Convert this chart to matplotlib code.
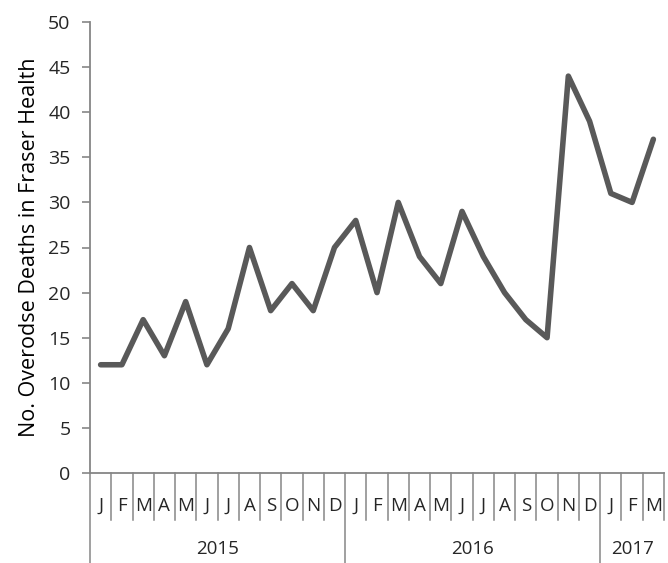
import matplotlib.pyplot as plt
import matplotlib.transforms as mtransforms

# monthly overdose deaths, Jan 2015 - Mar 2017
months = ['J', 'F', 'M', 'A', 'M', 'J', 'J', 'A', 'S', 'O', 'N', 'D',
          'J', 'F', 'M', 'A', 'M', 'J', 'J', 'A', 'S', 'O', 'N', 'D',
          'J', 'F', 'M']
deaths = [12, 12, 17, 13, 19, 12, 16, 25, 18, 21, 18, 25,
          28, 20, 30, 24, 21, 29, 24, 20, 17, 15, 44, 39,
          31, 30, 37]
years = ['2015', '2016', '2017']
months_per_year = [12, 12, 3]

plt.rcParams['font.family'] = ['Open Sans', 'DejaVu Sans']
axis_grey = '#868686'
text_col = '#262626'

fig = plt.figure(figsize=(6.68, 5.63), dpi=100)
ax = fig.add_axes([90 / 668, 90 / 563, 574 / 668, 451 / 563])

x = list(range(len(deaths)))
ax.plot(x, deaths, color='#595959', linewidth=4, solid_joinstyle='round',
        solid_capstyle='round')

ax.set_xlim(-0.5, len(deaths) - 0.5)
ax.set_ylim(0, 50)
ax.set_yticks(range(0, 51, 5))
ax.set_xticks(x)
ax.set_xticklabels(months)
ax.tick_params(axis='x', length=0, pad=17, labelsize=13.5, colors=text_col)
ax.tick_params(axis='y', length=6, width=1.2, color=axis_grey, labelsize=14,
               labelcolor=text_col, pad=8)

for side in ['top', 'right']:
    ax.spines[side].set_visible(False)
ax.spines['left'].set_color(axis_grey)
ax.spines['left'].set_linewidth(1.3)
ax.spines['bottom'].set_color(axis_grey)
ax.spines['bottom'].set_linewidth(1.3)

ax.set_ylabel('No. Overodse Deaths in Fraser Health', fontsize=15.5, color='black', labelpad=6)

# category separators below the axis
trans = mtransforms.blended_transform_factory(ax.transData, ax.transAxes)
year_starts = [0]
for n in months_per_year:
    year_starts.append(year_starts[-1] + n)
for k in range(len(deaths) + 1):
    b = k - 0.5
    if k in year_starts[:-1]:
        ax.plot([b, b], [0, -0.2], transform=trans, color=axis_grey, lw=1.1, clip_on=False)
    else:
        ax.plot([b, b], [0, -0.105], transform=trans, color=axis_grey, lw=1.1, clip_on=False)

for i, yr in enumerate(years):
    centre = (year_starts[i] + year_starts[i + 1]) / 2 - 0.5
    ax.text(centre, -0.168, yr, transform=trans, ha='center', va='center',
            fontsize=13.5, color=text_col)

fig.savefig('out.png', dpi=100)
